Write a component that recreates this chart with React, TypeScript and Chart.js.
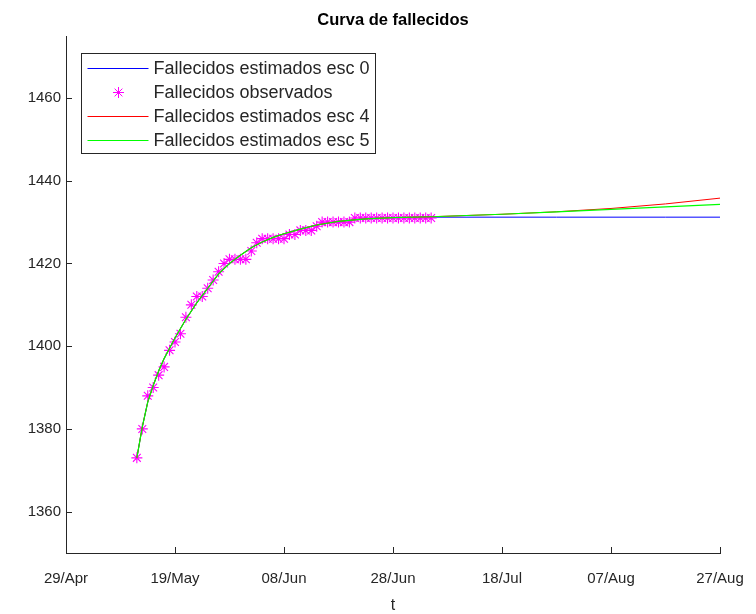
import React, { useEffect, useRef } from "react";
import { Chart, registerables } from "chart.js";

Chart.register(...registerables);

// x values are days counted from 29/Apr
const xTickDays = [0, 20, 40, 60, 80, 100, 120];
const xTickLabels = ["29/Apr", "19/May", "08/Jun", "28/Jun", "18/Jul", "07/Aug", "27/Aug"];
const yTicks = [1360, 1380, 1400, 1420, 1440, 1460];

const obsStartDay = 13; // 12/May
const observed = [
  1373, 1380, 1388, 1390, 1393, 1395, 1399, 1401, 1403, 1407,
  1410, 1412, 1412, 1414, 1416, 1418, 1420, 1421, 1421, 1421,
  1421, 1423, 1425, 1426, 1426, 1426, 1426, 1426, 1427, 1427,
  1428, 1428, 1428, 1429, 1430, 1430, 1430, 1430, 1430, 1430,
  1431, 1431, 1431, 1431, 1431, 1431, 1431, 1431, 1431, 1431,
  1431, 1431, 1431, 1431, 1431,
];

const modelDays = [13, 14, 15, 16, 17, 18, 20, 22, 24, 26, 28, 30, 32, 34, 36, 38, 40, 43, 46, 50, 55, 60, 67, 80, 90, 100, 110, 120];
const esc5 = [1373, 1380.5, 1386.5, 1390.5, 1394, 1397, 1402, 1406.5, 1410.5, 1414, 1417.5, 1420, 1422, 1423.8, 1425.2, 1426.3, 1427.2, 1428.3, 1429.3, 1430.2, 1430.8, 1431.1, 1431.3, 1431.9, 1432.5, 1433.1, 1433.7, 1434.3];
const esc4 = [1373, 1380.5, 1386.5, 1390.5, 1394, 1397, 1402, 1406.5, 1410.5, 1414, 1417.5, 1420, 1422, 1423.8, 1425.2, 1426.3, 1427.2, 1428.3, 1429.3, 1430.2, 1430.8, 1431.1, 1431.3, 1431.9, 1432.5, 1433.3, 1434.4, 1435.8];
const esc0 = [1373, 1380.5, 1386.5, 1390.5, 1394, 1397, 1402, 1406.5, 1410.5, 1414, 1417.5, 1420, 1422, 1423.8, 1425.2, 1426.3, 1427.2, 1428.3, 1429.3, 1430.2, 1430.8, 1431.1, 1431.2, 1431.2, 1431.2, 1431.2, 1431.2, 1431.2];

const seriesLabels = ["Fallecidos estimados esc 0", "Fallecidos observados", "Fallecidos estimados esc 4", "Fallecidos estimados esc 5"];
const seriesColors = ["#0000ff", "#ff00ff", "#ff0000", "#00ff00"];
const titleText = "Curva de fallecidos";

const FONT = "'Liberation Sans', Arial, Helvetica, sans-serif";
const AXIS_COLOR = "#262626";

const innerTicks = {
  id: "innerTicks",
  afterDraw(chart: any) {
    const { ctx, chartArea, scales } = chart;
    ctx.save();
    ctx.strokeStyle = AXIS_COLOR;
    ctx.lineWidth = 1;
    ctx.beginPath();
    scales.x.ticks.forEach((t: any) => {
      const px = Math.round(scales.x.getPixelForValue(t.value)) + 0.5;
      ctx.moveTo(px, chartArea.bottom);
      ctx.lineTo(px, chartArea.bottom - 6);
    });
    scales.y.ticks.forEach((t: any) => {
      const py = Math.round(scales.y.getPixelForValue(t.value)) + 0.5;
      ctx.moveTo(chartArea.left, py);
      ctx.lineTo(chartArea.left + 6, py);
    });
    ctx.stroke();
    // title centred over the axes
    ctx.fillStyle = "#000000";
    ctx.font = `bold 16.5px ${FONT}`;
    ctx.textAlign = "center";
    ctx.textBaseline = "middle";
    ctx.fillText(titleText, (chartArea.left + chartArea.right) / 2, 20);
    ctx.restore();
  },
};

const boxLegend = {
  id: "boxLegend",
  afterDraw(chart: any) {
    const { ctx, chartArea } = chart;
    const left = chartArea.left + 15.5;
    const top = chartArea.top + 17.5;
    const w = 294;
    const rowH = 24.2;
    const h = 100;
    ctx.save();
    ctx.fillStyle = "#ffffff";
    ctx.fillRect(left, top, w, h);
    ctx.strokeStyle = AXIS_COLOR;
    ctx.lineWidth = 1;
    ctx.strokeRect(left, top, w, h);
    ctx.font = `18px ${FONT}`;
    ctx.textBaseline = "middle";
    ctx.textAlign = "left";
    seriesLabels.forEach((label, i) => {
      const cy = Math.floor(top + 14.5 + i * rowH) + 0.5;
      const x0 = left + 6;
      const x1 = left + 67;
      ctx.strokeStyle = seriesColors[i];
      ctx.lineWidth = 1;
      ctx.beginPath();
      if (i === 1) {
        const cx = Math.round((x0 + x1) / 2) + 0.5;
        const r = 5.5;
        ctx.moveTo(cx - r, cy);
        ctx.lineTo(cx + r, cy);
        ctx.moveTo(cx, cy - r);
        ctx.lineTo(cx, cy + r);
        const d = r * 0.7071;
        ctx.moveTo(cx - d, cy - d);
        ctx.lineTo(cx + d, cy + d);
        ctx.moveTo(cx - d, cy + d);
        ctx.lineTo(cx + d, cy - d);
      } else {
        ctx.moveTo(x0, cy);
        ctx.lineTo(x1, cy);
      }
      ctx.stroke();
      ctx.fillStyle = AXIS_COLOR;
      ctx.fillText(label, left + 72, cy + 1);
    });
    ctx.restore();
  },
};

export default function App() {
  const ref = useRef<HTMLCanvasElement | null>(null);
  useEffect(() => {
    if (!ref.current) return;
    const pts = (ys: number[]) => modelDays.map((d, i) => ({ x: d, y: ys[i] }));
    const chart = new Chart(ref.current, {
      type: "line",
      data: {
        datasets: [
          {
            label: seriesLabels[0],
            data: pts(esc0),
            borderColor: seriesColors[0],
            borderWidth: 1,
            pointRadius: 0,
            order: 3,
          },
          {
            label: seriesLabels[1],
            data: observed.map((v, i) => ({ x: obsStartDay + i, y: v })),
            borderColor: seriesColors[1],
            backgroundColor: seriesColors[1],
            showLine: false,
            pointStyle: "star",
            pointRadius: 5.5,
            pointBorderWidth: 1.1,
            order: 2,
          },
          {
            label: seriesLabels[2],
            data: pts(esc4),
            borderColor: seriesColors[2],
            borderWidth: 1,
            pointRadius: 0,
            order: 1,
          },
          {
            label: seriesLabels[3],
            data: pts(esc5),
            borderColor: seriesColors[3],
            borderWidth: 1.2,
            pointRadius: 0,
            order: 0,
          },
        ] as any,
      },
      options: {
        animation: false,
        responsive: false,
        layout: { padding: { left: 0, right: 36, top: 36, bottom: 0 } },
        plugins: {
          legend: { display: false },
          tooltip: { enabled: false },
          title: { display: false },
        },
        scales: {
          x: {
            type: "linear",
            min: 0,
            max: 120,
            afterBuildTicks: (s: any) => {
              s.ticks = xTickDays.map((v) => ({ value: v }));
            },
            afterFit: (s: any) => {
              s.height = 61;
              s.paddingLeft = 0;
              s.paddingRight = 0;
            },
            ticks: {
              color: AXIS_COLOR,
              font: { family: FONT, size: 15 },
              padding: 17,
              maxRotation: 0,
              autoSkip: false,
              callback: (v: any) => {
                const idx = xTickDays.indexOf(Number(v));
                return idx >= 0 ? xTickLabels[idx] : "";
              },
            },
            grid: { display: false, drawTicks: false },
            border: { display: true, color: AXIS_COLOR, width: 1 },
            title: {
              display: true,
              text: "t",
              color: AXIS_COLOR,
              font: { family: FONT, size: 16 },
              padding: { top: 0, bottom: -1 },
            },
          },
          y: {
            type: "linear",
            min: 1350,
            max: 1475,
            afterBuildTicks: (s: any) => {
              s.ticks = yTicks.map((v) => ({ value: v }));
            },
            afterFit: (s: any) => {
              s.width = 66;
              s.paddingTop = 0;
              s.paddingBottom = 0;
            },
            ticks: {
              color: AXIS_COLOR,
              font: { family: FONT, size: 15 },
              padding: 5,
              callback: (v: any) => String(v),
            },
            grid: { display: false, drawTicks: false },
            border: { display: true, color: AXIS_COLOR, width: 1 },
          },
        },
      } as any,
      plugins: [innerTicks, boxLegend],
    });
    return () => chart.destroy();
  }, []);
  return (
    <div style={{ position: "fixed", left: 0, top: 0, width: 756, height: 614, background: "#ffffff" }}>
      <canvas ref={ref} width={756} height={614} />
    </div>
  );
}
